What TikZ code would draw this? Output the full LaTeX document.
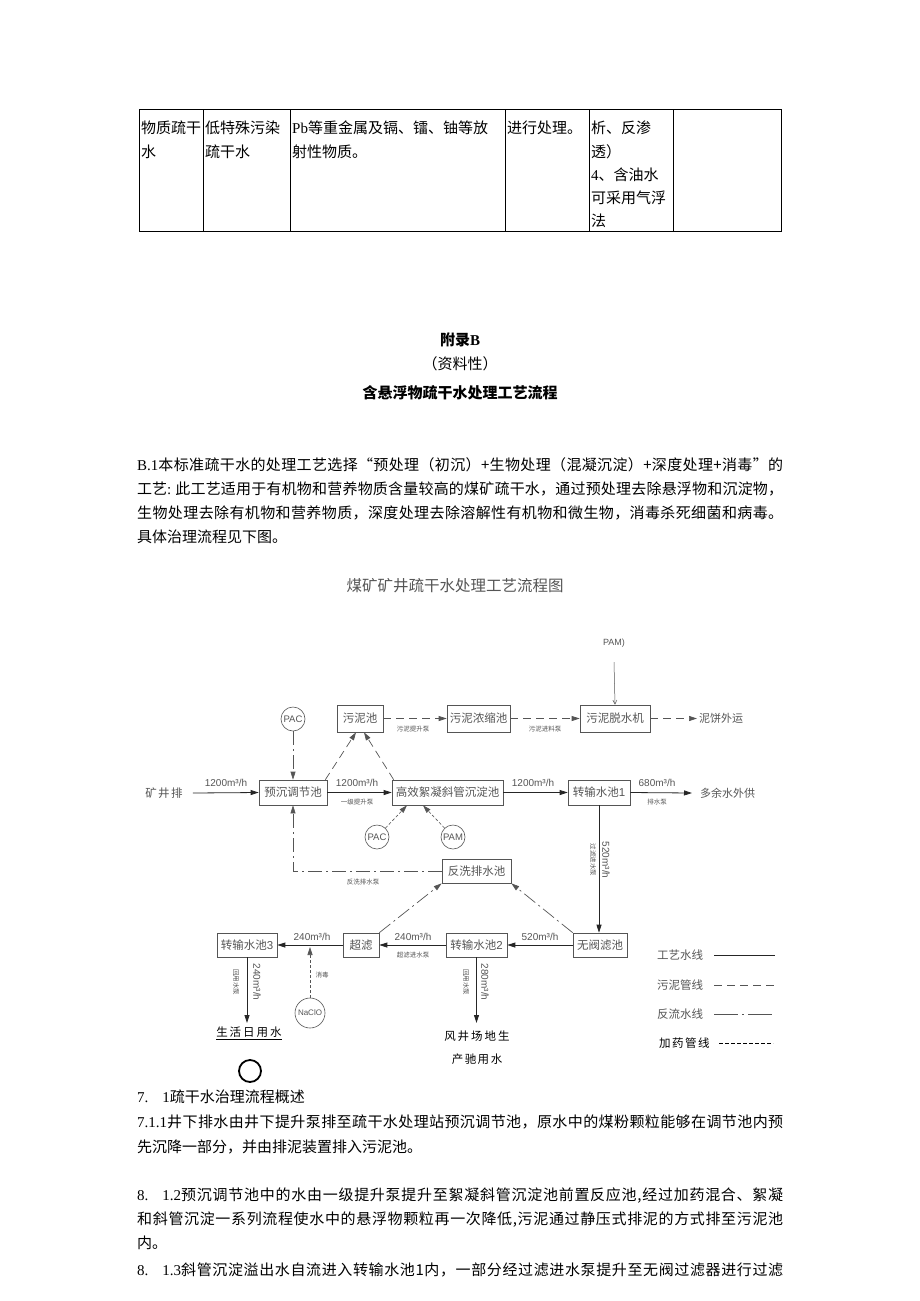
\documentclass[tikz,border=0pt]{standalone}
\usepackage{fontspec}
\setmainfont{Noto Sans CJK SC}
\newfontfamily\tnr{Liberation Serif}
\newfontfamily\arl{Liberation Sans}
\usetikzlibrary{arrows.meta}
\definecolor{dg}{HTML}{555555}
\definecolor{lg}{HTML}{6A6A6A}
\def\jlEnd{\jlEnd}
\def\jl#1#2{\hbox to 646pt{#1\jlB#2\jlEnd}}
\def\jlB#1{#1\jlA}
\def\jlA#1{\ifx\jlEnd#1\else\hskip0pt plus 1fil\relax #1\expandafter\jlA\fi}
\begin{document}
\begin{tikzpicture}[x=1pt,y=-1pt,
  every node/.style={inner sep=0pt},
  body/.style={anchor=base west, font=\fontsize{15}{18}\selectfont},
  ctr/.style={anchor=base, font=\fontsize{15}{18}\selectfont},
  box/.style={draw=dg, line width=0.7pt, text=dg, font=\fontsize{11.5}{13}\selectfont, minimum height=25pt},
  circ/.style={circle, draw=dg, line width=0.6pt, text=dg, minimum size=24pt, font=\arl\fontsize{9.5}{10}\selectfont},
  rate/.style={text=dg, font=\arl\fontsize{10}{11}\selectfont},
  pump/.style={text=dg, font=\fontsize{6.5}{7}\selectfont},
  dtxt/.style={text=dg, font=\fontsize{11.5}{13}\selectfont},
  tip/.style={-{Triangle[length=8pt,width=5pt]}},
  proc/.style={draw=black!85, line width=0.8pt, tip},
  sludge/.style={draw=dg, line width=0.7pt, dash pattern=on 8pt off 5pt, tip},
  back/.style={draw=dg, line width=0.7pt, dash pattern=on 14pt off 4pt on 2pt off 4pt, tip},
  dose/.style={draw=dg, line width=0.6pt, dash pattern=on 3pt off 2pt, tip},
  tline/.style={draw=black, line width=0.6pt}
]
\useasboundingbox (0,0) rectangle (920,1301);
\fill[white] (0,0) rectangle (920,1301);

% ---------- table ----------
\coordinate (t1) at (139,109);
\coordinate (t2) at (781,231);
\draw[tline] (t1) rectangle (t2);
\foreach \xx in {203,290,505,589,673} \draw[tline] (\xx,109) -- (\xx,231);
\node[body] (c11) at (141,133.5) {物质疏干};
\node[body] (c12) at (141,157.5) {水};
\node[body] (c21) at (205,133.5) {低特殊污染};
\node[body] (c22) at (205,157.5) {疏干水};
\node[body] (c31) at (292,133.5) {{\tnr Pb}等重金属及镉、镭、铀等放};
\node[body] (c32) at (292,157.5) {射性物质。};
\node[body] (c41) at (507,133.5) {进行处理。};
\node[body] (c51) at (591,133.5) {析、反渗};
\node[body] (c52) at (591,157.5) {透）};
\node[body] (c53) at (591,180.5) {{\tnr 4}、含油水};
\node[body] (c54) at (591,203.5) {可采用气浮};
\node[body] (c55) at (591,226.5) {法};

% ---------- headings ----------
\node[ctr] (h1) at (460,345.5) {\bfseries 附录{\tnr\bfseries B}};
\node[ctr] (h2) at (460,369.5) {（资料性）};
\node[ctr] (h3) at (460,398.5) {\bfseries 含悬浮物疏干水处理工艺流程};

% ---------- paragraph ----------
\node[body] (p1) at (137,470.5) {\jl{{\tnr B.1}}{本标准疏干水的处理工艺选择“预处理（初沉）+生物处理（混凝沉淀）+深度处理+消毒”的}};
\node[body] (p2) at (137,494.5) {\jl{工艺{\tnr :}\hspace{4pt}}{此工艺适用于有机物和营养物质含量较高的煤矿疏干水，通过预处理去除悬浮物和沉淀物，}};
\node[body] (p3) at (137,518.5) {\jl{}{生物处理去除有机物和营养物质，深度处理去除溶解性有机物和微生物，消毒杀死细菌和病毒。}};
\node[body] (p4) at (137,542.5) {具体治理流程见下图。};

% ---------- diagram title ----------
\node[anchor=base, text=dg, font=\fontsize{15.5}{18}\selectfont] (dt) at (455,591.5) {煤矿矿井疏干水处理工艺流程图};

% ---------- sludge row ----------
\node[text=dg, font=\arl\fontsize{9}{10}\selectfont] (pamtxt) at (614,643) {PAM)};
\node[circ] (pac1) at (293,719) {PAC};
\node[box, minimum width=46pt, minimum height=27pt] (wn) at (360,718.5) {污泥池};
\node[box, minimum width=63pt, minimum height=27pt] (ns) at (478.5,718.5) {污泥浓缩池};
\node[box, minimum width=70pt, minimum height=27pt] (ts) at (615,718.5) {污泥脱水机};
\node[dtxt, anchor=west, font=\fontsize{11}{13}\selectfont] (nb) at (699,718.5) {泥饼外运};
\node[pump] (lb1) at (413,729.5) {污泥提升泵};
\node[pump] (lb2) at (545,729.5) {污泥进料泵};
\coordinate (pamtop) at (614,662);
\draw[draw=dg, line width=0.5pt, -{Straight Barb[length=4pt,width=4pt]}] (pamtop) -- (ts.north);
\draw[sludge] (wn) -- (ns);
\draw[sludge] (ns) -- (ts);
\draw[sludge] (ts.east) -- ([xshift=-2pt]nb.west);

% ---------- main row ----------
\node[dtxt, font=\fontsize{11.5}{13}\selectfont] (kj) at (164,793) {矿\kern1.5pt 井\kern1.5pt 排};
\node[box, minimum width=68pt] (yc) at (293,792.5) {预沉调节池};
\node[box, minimum width=111pt] (gx) at (447.5,792.5) {高效絮凝斜管沉淀池};
\node[box, minimum width=62pt] (z1) at (599,792.5) {转输水池{\arl 1}};
\node[dtxt, anchor=west, font=\fontsize{11}{13}\selectfont] (yw) at (700,793) {多余水外供};
\draw[proc] ([xshift=10pt]kj.east) -- (yc.west);
\draw[proc] (yc) -- (gx);
\draw[proc] (gx) -- (z1);
\draw[proc] (z1.east) -- ([xshift=-8pt]yw.west);
\node[rate] (r1) at (226,783) {1200m³/h};
\node[rate] (r2) at (357,783) {1200m³/h};
\node[pump] (l2) at (357,802) {一级提升泵};
\node[rate] (r3) at (533,783) {1200m³/h};
\node[rate] (r4) at (657,783) {680m³/h};
\node[pump] (l4) at (657,802) {排水泵};

% sludge lines to 污泥池
\draw[sludge] ([xshift=-2pt]yc.north east) -- ([xshift=-4pt]wn.south);
\draw[sludge] ([xshift=2pt]gx.north west) -- ([xshift=4pt]wn.south);
% PAC top
\draw[back] (pac1.south) -- (yc.north);

% dosing circles
\node[circ] (pac2) at (377,837) {PAC};
\node[circ] (pam2) at (453,837) {PAM};
\draw[dose] (pac2) -- ([xshift=-40.5pt]gx.south);
\draw[dose] (pam2) -- ([xshift=-24.5pt]gx.south);

% ---------- backwash tank ----------
\node[box, minimum width=69pt, minimum height=24pt] (fx) at (476.5,871) {反洗排水池};
\draw[back] (fx.west) -| (yc.south);
\node[pump] (l5) at (363,882) {反洗排水泵};

% ---------- lower row ----------
\node[box, minimum width=54pt, minimum height=24pt] (wf) at (600,945) {无阀滤池};
\node[box, minimum width=61pt, minimum height=24pt] (z2) at (476.5,945) {转输水池{\arl 2}};
\node[box, minimum width=36pt, minimum height=24pt] (cl) at (361,945) {超滤};
\node[box, minimum width=60pt, minimum height=24pt] (z3) at (247,945) {转输水池{\arl 3}};
\draw[proc] (z1.south) -- (z1.south |- wf.north);
\node[rate, rotate=-90] (r5) at (606,860) {520m³/h};
\node[pump, rotate=-90] (l6) at (593,860) {过滤进水泵};
\draw[proc] (wf) -- (z2);
\node[rate] (r6) at (540,937) {520m³/h};
\draw[proc] (z2) -- (cl);
\node[rate] (r7) at (413,937) {240m³/h};
\node[pump] (l7) at (413,955) {超滤进水泵};
\draw[proc] (cl) -- (z3);
\node[rate] (r8) at (312,937) {240m³/h};
\draw[back] (wf.north west) -- (fx.south east);
\draw[back] (cl.north east) -- (fx.south west);

% NaClO
\node[circ, minimum size=30pt, font=\arl\fontsize{8}{9}\selectfont] (na) at (310,1013) {NaClO};
\coordinate (nx) at (310,947);
\draw[dose] (na.north) -- (nx);
\node[pump] (l8) at (322,975) {消毒};

% outlets
\coordinate (o3) at (247,1023);
\coordinate (o2) at (476.5,1023);
\draw[proc] (z3.south) -- (o3);
\draw[proc] (z2.south) -- (o2);
\node[rate, rotate=-90] (r9) at (257,982) {240m³/h};
\node[pump, rotate=-90] (l9) at (236,982) {回用水泵};
\node[rate, rotate=-90] (r10) at (485,982) {280m³/h};
\node[pump, rotate=-90] (l10) at (466,982) {回用水泵};
\node[anchor=base, font=\fontsize{11.5}{13}\selectfont] (sh) at (249,1036.5) {生\kern2pt 活\kern2pt 日\kern2pt 用\kern2pt 水};
\draw[line width=0.6pt] ([yshift=-3pt]sh.base west) -- ([yshift=-3pt]sh.base east);
\node[anchor=base, font=\fontsize{11.5}{13}\selectfont] (fj) at (477,1040.5) {风\kern2pt 井\kern2pt 场\kern2pt 地\kern2pt 生};
\node[anchor=base, font=\fontsize{11.5}{13}\selectfont] (cy) at (477,1063.5) {产\kern1.5pt 驰\kern1.5pt 用\kern1.5pt 水};
\node[circle, draw=black, line width=1.8pt, minimum size=22pt] (oc) at (250,1071) {};

% ---------- legend ----------
\node[dtxt, anchor=west] (lg1) at (657,955) {工艺水线};
\node[dtxt, anchor=west] (lg2) at (657,985) {污泥管线};
\node[dtxt, anchor=west] (lg3) at (657,1014) {反流水线};
\node[anchor=west, font=\fontsize{11.5}{13}\selectfont] (lg4) at (659,1043) {加\kern1.5pt 药\kern1.5pt 管\kern1.5pt 线};
\coordinate (a1) at (714,955); \coordinate (b1) at (775,955);
\coordinate (a2) at (714,985); \coordinate (b2) at (775,985);
\coordinate (a3) at (714,1014); \coordinate (b3) at (775,1014);
\coordinate (a4) at (719,1043); \coordinate (b4) at (773,1043);
\draw[black!85, line width=0.8pt] (a1) -- (b1);
\draw[dg, line width=0.7pt, dash pattern=on 8pt off 5pt] (a2) -- (b2);
\draw[dg, line width=0.7pt, dash pattern=on 24pt off 4pt on 2pt off 4pt] (a3) -- (b3);
\draw[black, line width=0.8pt, dash pattern=on 4pt off 2pt] (a4) -- (b4);

% ---------- bottom text ----------
\node[body] (q1) at (137,1102.5) {{\tnr 7.}\hspace{14pt}{\tnr 1}疏干水治理流程概述};
\node[body] (q2) at (137,1127.5) {\jl{{\tnr 7.1.1}}{井下排水由井下提升泵排至疏干水处理站预沉调节池，原水中的煤粉颗粒能够在调节池内预}};
\node[body] (q3) at (137,1152.5) {先沉降一部分，并由排泥装置排入污泥池。};
\node[body] (q4) at (137,1200.5) {\jl{{\tnr 8.}\hspace{14pt}{\tnr 1.2}}{预沉调节池中的水由一级提升泵提升至絮凝斜管沉淀池前置反应池,经过加药混合、絮凝}};
\node[body] (q5) at (137,1224.5) {\jl{}{和斜管沉淀一系列流程使水中的悬浮物颗粒再一次降低,污泥通过静压式排泥的方式排至污泥池}};
\node[body] (q6) at (137,1248.5) {内。};
\node[body] (q7) at (137,1275.5) {\jl{{\tnr 8.}\hspace{14pt}{\tnr 1.3}}{斜管沉淀溢出水自流进入转输水池1内，一部分经过滤进水泵提升至无阀过滤器进行过滤}};
\end{tikzpicture}
\end{document}
